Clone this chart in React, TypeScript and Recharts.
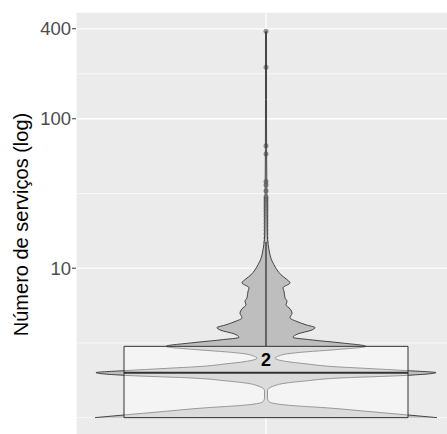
import React from "react";
import {
  ComposedChart,
  Area,
  Scatter,
  XAxis,
  YAxis,
  CartesianGrid,
  ReferenceArea,
  ReferenceLine,
  ReferenceDot,
} from "recharts";

// violin outline: service count and half width (axis units)
const violinValues = [
  1, 1.043, 1.097, 1.156, 1.216, 1.28, 1.355, 1.509, 1.574, 1.63, 1.7, 1.762,
  1.836, 1.917, 2, 2.065, 2.136, 2.196, 2.29, 2.372, 2.5, 2.59, 2.672, 2.755,
  2.841, 3, 3.163, 3.315, 3.444, 3.637, 3.838, 4, 4.18, 4.395, 4.653, 5,
  5.346, 5.69, 6, 6.33, 7, 7.39, 7.98, 8.49, 9.03, 9.75, 10.54, 11.38, 12.3,
  13.28, 14.35, 15.5, 18.07, 28.7, 62.1, 134, 385,
];
const violinHalfWidths = [
  171, 141, 104, 66, 19, 3, 1.5, 1.5, 3, 8, 19, 40, 70, 140, 170, 140, 100,
  67, 40, 21, 9, 13, 21, 40, 67, 100, 75, 45, 27, 32, 45, 49, 40, 31, 24, 26,
  24, 20, 21, 19, 18, 17, 24, 20, 15, 11, 8, 5.5, 4, 3, 2.2, 1.6, 1.2, 0.9,
  0.6, 0.5, 0.5,
];

// outliers visible above the violin body
const outlierValues = [
  15, 16, 17, 18, 19, 20, 21, 22, 23, 24, 25, 26, 27, 28, 29, 30, 33, 36, 38,
  58, 66, 221, 385,
];

// box: q1, median, q3
const boxQuartiles = [1, 2, 3];
const medianLabel = "2";

const yTicks = [10, 100, 400];
const yMinorBreaks = [1, 3.1623, 31.623, 200];
const yDomain = [0.742, 518];

const BOX_HALF = 142;
const X_HALF = 190;
const FONT = '"Liberation Sans", Arial, Helvetica, sans-serif';

const violinData = violinValues.map((v, i) => ({
  v,
  w: [-violinHalfWidths[i], violinHalfWidths[i]],
}));
const outlierData = outlierValues.map((v) => ({ v, x: 0 }));

const YTitle = (props: any) => {
  const { viewBox } = props;
  const cx = viewBox.x + 20.5;
  const cy = viewBox.y + viewBox.height / 2;
  return (
    <text
      x={cx}
      y={cy}
      dy="0.355em"
      transform={`rotate(-90, ${cx}, ${cy})`}
      textAnchor="middle"
      fill="#000"
      fontSize={20}
      fontFamily={FONT}
    >
      Número de serviços (log)
    </text>
  );
};

const Dot = (p: any) => (
  <circle cx={p.cx} cy={p.cy} r={2.5} fill="#333333" fillOpacity={0.5} />
);

export default function App() {
  return (
    <div
      style={{
        position: "absolute",
        left: 0,
        top: 0,
        width: 447,
        height: 434,
        overflow: "hidden",
        background: "#fff",
      }}
    >
      <ComposedChart
        width={456}
        height={437}
        layout="vertical"
        margin={{ top: 12, right: 0, bottom: 0, left: 0 }}
        style={{ fontFamily: FONT }}
      >
        <XAxis
          type="number"
          dataKey="x"
          domain={[-X_HALF, X_HALF]}
          ticks={[0]}
          allowDataOverflow
          hide
        />
        <YAxis
          type="number"
          dataKey="v"
          scale="log"
          reversed
          domain={yDomain}
          allowDataOverflow
          ticks={yTicks}
          width={76}
          axisLine={false}
          tickSize={4}
          tickMargin={1}
          tickLine={{ stroke: "#333333" }}
          tick={{ fill: "#4D4D4D", fontSize: 18.5, fontFamily: FONT }}
          label={<YTitle />}
        />
        <YAxis
          yAxisId="minor"
          type="number"
          dataKey="v"
          scale="log"
          reversed
          domain={yDomain}
          allowDataOverflow
          ticks={yMinorBreaks}
          hide
        />
        <CartesianGrid
          fill="#EBEBEB"
          stroke="#FFFFFF"
          strokeWidth={1.3}
          vertical
        />
        <CartesianGrid
          yAxisId="minor"
          stroke="#FFFFFF"
          strokeWidth={0.6}
          vertical={false}
        />
        <Scatter
          data={outlierData}
          shape={<Dot />}
          isAnimationActive={false}
          zIndex={150}
        />
        <Area
          data={violinData}
          dataKey="w"
          type="monotone"
          fill="#BEBEBE"
          fillOpacity={1}
          stroke="#333333"
          strokeWidth={0.9}
          isAnimationActive={false}
          zIndex={200}
        />
        <ReferenceLine
          segment={[
            { x: 0, y: boxQuartiles[2] },
            { x: 0, y: 15 },
          ]}
          stroke="#333333"
          strokeWidth={1.3}
          zIndex={250}
        />
        <ReferenceArea
          x1={-BOX_HALF}
          x2={BOX_HALF}
          y1={boxQuartiles[0]}
          y2={boxQuartiles[2]}
          fill="#FFFFFF"
          fillOpacity={0.45}
          stroke="#333333"
          strokeWidth={1}
          zIndex={300}
        />
        <ReferenceLine
          segment={[
            { x: -BOX_HALF, y: boxQuartiles[1] },
            { x: BOX_HALF, y: boxQuartiles[1] },
          ]}
          stroke="#333333"
          strokeWidth={2}
          zIndex={350}
        />
        <ReferenceDot
          x={0}
          y={boxQuartiles[1]}
          r={0}
          stroke="none"
          fill="none"
          zIndex={400}
          label={{
            value: medianLabel,
            position: "top",
            offset: 7,
            fill: "#000",
            fontSize: 18,
            fontWeight: "bold",
            fontFamily: FONT,
          }}
        />
      </ComposedChart>
    </div>
  );
}
